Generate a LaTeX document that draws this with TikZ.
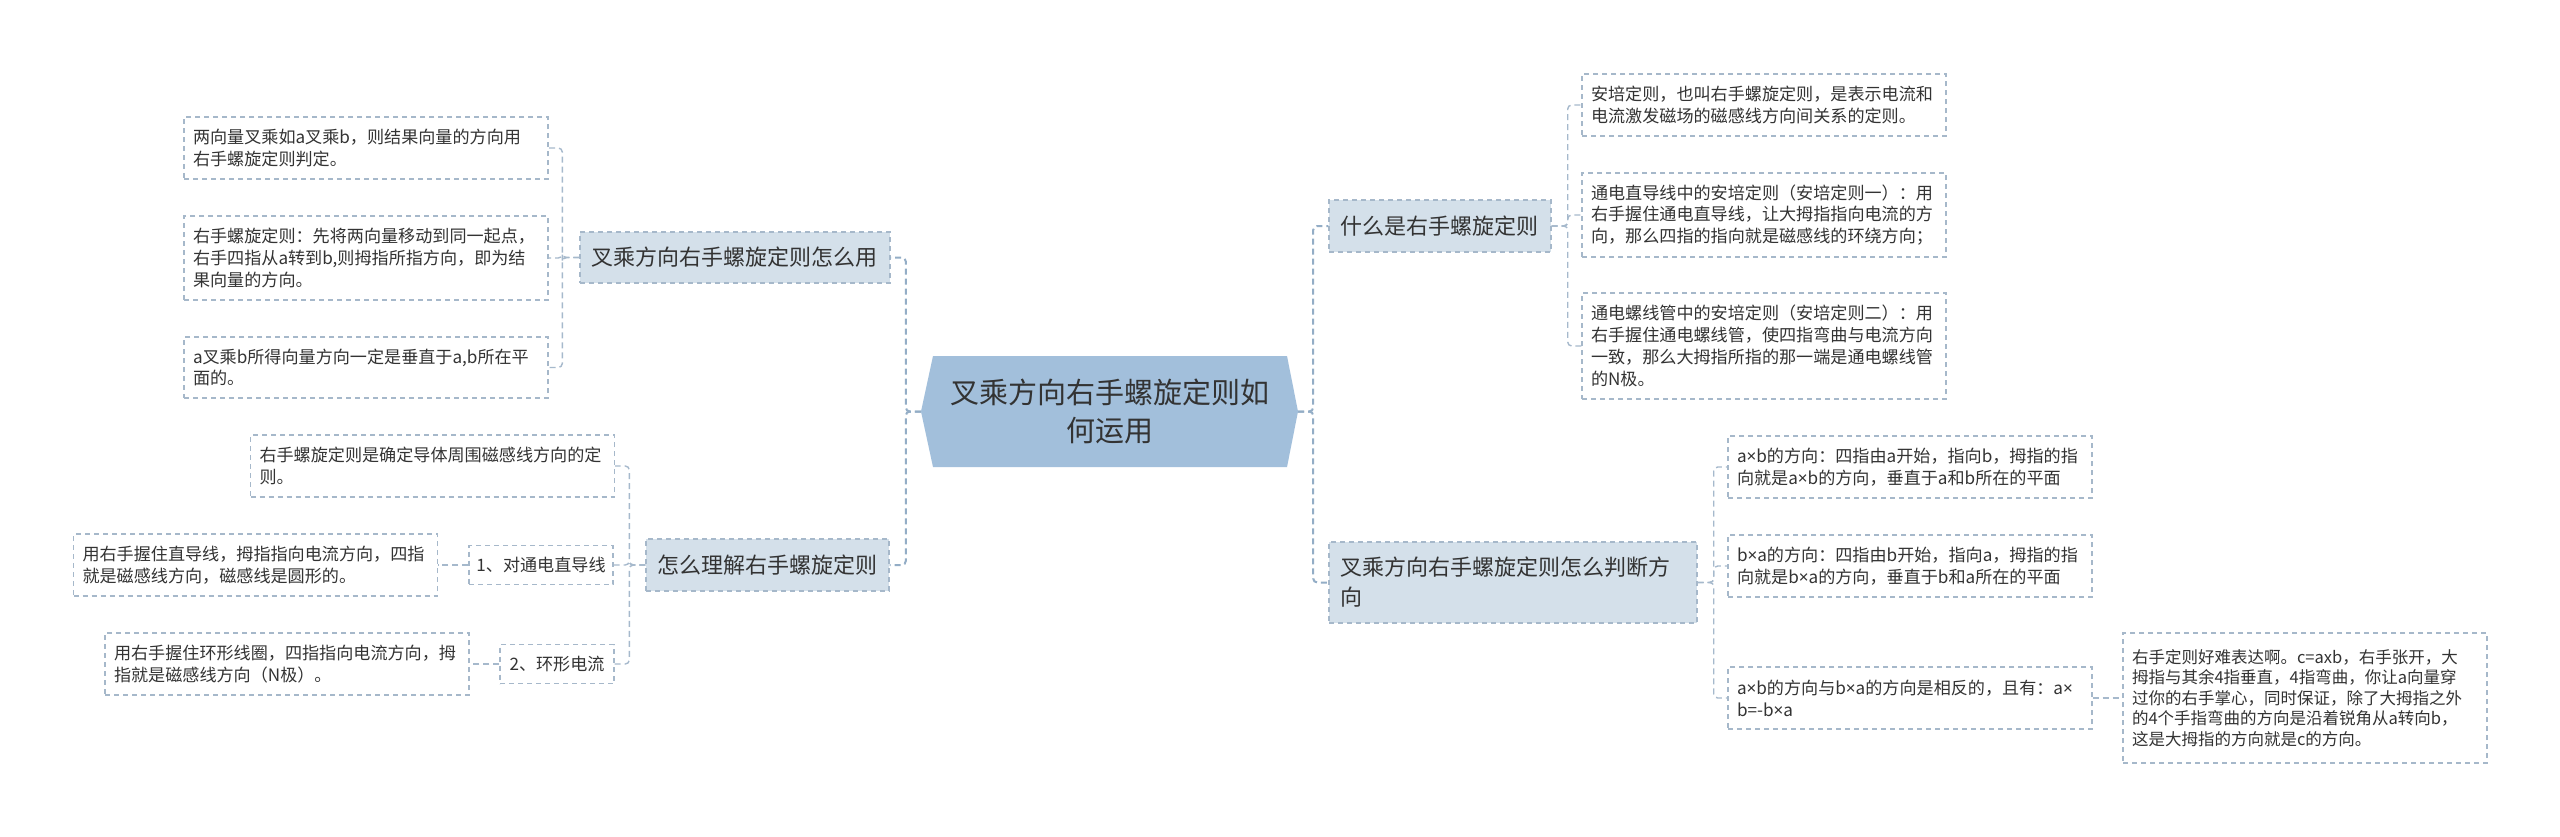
\documentclass[tikz,border=0pt]{standalone}
\usepackage{fontspec}
\setmainfont{Noto Sans CJK SC}
\newfontfamily\latinf{Noto Sans}
\newcommand{\tms}{{\latinf ×}}
\definecolor{txt}{HTML}{333333}
\definecolor{hexfill}{HTML}{A2BFDB}
\definecolor{nodefill}{HTML}{D4E0EA}
\definecolor{bdr}{HTML}{A6B8CA}
\definecolor{connc}{HTML}{A6B9CC}
\definecolor{mainc}{HTML}{93ADC6}
\tikzset{
  leafbase/.style={draw=bdr, line width=1.4pt, dash pattern=on 5pt off 4pt, fill=white, text=txt,
    font=\fontsize{17.1}{21.8}\selectfont, inner ysep=0pt},
  leaf/.style={leafbase, text width=346pt, inner xsep=9pt, align=left, minimum height=#1},
  tagnode/.style={leafbase, inner xsep=0pt, align=center},
  topic/.style={draw=bdr, line width=1.4pt, dash pattern=on 5pt off 4pt, fill=nodefill, text=txt,
    font=\fontsize{22}{30}\selectfont, inner xsep=11pt, inner ysep=0pt, align=left},
  conn/.style={draw=connc, line width=1.4pt, dash pattern=on 6pt off 4pt, rounded corners=4pt},
  mainconn/.style={draw=mainc, line width=2pt, dash pattern=on 6pt off 4pt, rounded corners=4pt},
  centre/.style={inner sep=0pt, text=txt, align=center, font=\fontsize{29}{38}\selectfont,
    path picture={\fill[hexfill] (path picture bounding box.west)
      -- ([xshift=12pt]path picture bounding box.north west)
      -- ([xshift=-11pt]path picture bounding box.north east)
      -- (path picture bounding box.east)
      -- ([xshift=-11pt]path picture bounding box.south east)
      -- ([xshift=12pt]path picture bounding box.south west) -- cycle;}}
}
\begin{document}
\begin{tikzpicture}[x=1pt,y=-1pt]
\useasboundingbox[fill=white] (0,0) rectangle (2560,836);

% centre
\node[centre, minimum width=377pt, minimum height=111pt] (C) at (1109.5,411.5) {叉乘方向右手螺旋定则如\\何运用};

% left branch 1
\node[topic, text width=288pt, minimum height=51pt] (L1) at (735,257.5) {叉乘方向右手螺旋定则怎么用};
\node[leaf=62pt] (L1a) at (366,148) {两向量叉乘如a叉乘b，则结果向量的方向用\\右手螺旋定则判定。};
\node[leaf=84pt] (L1b) at (366,258) {右手螺旋定则：先将两向量移动到同一起点，\\右手四指从a转到b,则拇指所指方向，即为结\\果向量的方向。};
\node[leaf=61pt] (L1c) at (366,367.5) {a叉乘b所得向量方向一定是垂直于a,b所在平\\面的。};

% left branch 2
\node[topic, text width=221pt, minimum height=52pt] (L2) at (767.5,565) {怎么理解右手螺旋定则};
\node[leaf=62pt] (L2a) at (432.5,466) {右手螺旋定则是确定导体周围磁感线方向的定\\则。};
\node[tagnode, minimum width=144pt, minimum height=39pt] (n1) at (541,565) {1、对通电直导线};
\node[leaf=62pt] (B1) at (255.5,565) {用右手握住直导线，拇指指向电流方向，四指\\就是磁感线方向，磁感线是圆形的。};
\node[tagnode, minimum width=114pt, minimum height=39pt] (n2) at (557,664) {2、环形电流};
\node[leaf=62pt] (B2) at (287,664) {用右手握住环形线圈，四指指向电流方向，拇\\指就是磁感线方向（N极）。};

% right branch 1
\node[topic, text width=200pt, minimum height=52pt] (R1) at (1440,226) {什么是右手螺旋定则};
\node[leaf=62pt] (R1a) at (1764,105) {安培定则，也叫右手螺旋定则，是表示电流和\\电流激发磁场的磁感线方向间关系的定则。};
\node[leaf=84pt] (R1b) at (1764,215) {通电直导线中的安培定则（安培定则一）：用\\右手握住通电直导线，让大拇指指向电流的方\\向，那么四指的指向就是磁感线的环绕方向；};
\node[leaf=106pt] (R1c) at (1764,346) {通电螺线管中的安培定则（安培定则二）：用\\右手握住通电螺线管，使四指弯曲与电流方向\\一致，那么大拇指所指的那一端是通电螺线管\\的N极。};

% right branch 2
\node[topic, text width=346pt, minimum height=81pt] (R2) at (1513,582.5) {叉乘方向右手螺旋定则怎么判断方\\向};
\node[leaf=62pt] (R2a) at (1910,467) {a\tms b的方向：四指由a开始，指向b，拇指的指\\向就是a\tms b的方向，垂直于a和b所在的平面};
\node[leaf=62pt] (R2b) at (1910,566) {b\tms a的方向：四指由b开始，指向a，拇指的指\\向就是b\tms a的方向，垂直于b和a所在的平面};
\node[leaf=62pt] (R2c) at (1910,698) {a\tms b的方向与b\tms a的方向是相反的，且有：a\tms\\b=-b\tms a};
\node[leaf=130pt, font=\fontsize{16.5}{20.5}\selectfont] (R2d) at (2305,698) {右手定则好难表达啊。c=axb，右手张开，大\\拇指与其余4指垂直，4指弯曲，你让a向量穿\\过你的右手掌心，同时保证，除了大拇指之外\\的4个手指弯曲的方向是沿着锐角从a转向b，\\这是大拇指的方向就是c的方向。};

% connectors from centre
\draw[mainconn] (C.west) -- ++(-15,0) |- (L1.east);
\draw[mainconn] (C.west) -- ++(-15,0) |- (L2.east);
\draw[mainconn] (C.east) -- ++(15,0) |- (R1.west);
\draw[mainconn] (C.east) -- ++(15,0) |- (R2.west);

% left branch 1
\draw[conn] (L1.west) -- ++(-17,0) |- (L1a.east);
\draw[conn] (L1.west) -- ++(-17,0) |- (L1b.east);
\draw[conn] (L1.west) -- ++(-17,0) |- (L1c.east);
% left branch 2
\draw[conn] (L2.west) -- ++(-16,0) |- (L2a.east);
\draw[conn] (L2.west) -- ++(-16,0) |- (n1.east);
\draw[conn] (L2.west) -- ++(-16,0) |- (n2.east);
\draw[conn] (n1.west) -- (B1.east);
\draw[conn] (n2.west) -- (B2.east);
% right branch 1
\draw[conn] (R1.east) -- ++(16,0) |- (R1a.west);
\draw[conn] (R1.east) -- ++(16,0) |- (R1b.west);
\draw[conn] (R1.east) -- ++(16,0) |- (R1c.west);
% right branch 2
\draw[conn] (R2.east) -- ++(16,0) |- (R2a.west);
\draw[conn] (R2.east) -- ++(16,0) |- (R2b.west);
\draw[conn] (R2.east) -- ++(16,0) |- (R2c.west);
\draw[conn] (R2c.east) -- (R2d.west);
\end{tikzpicture}
\end{document}
